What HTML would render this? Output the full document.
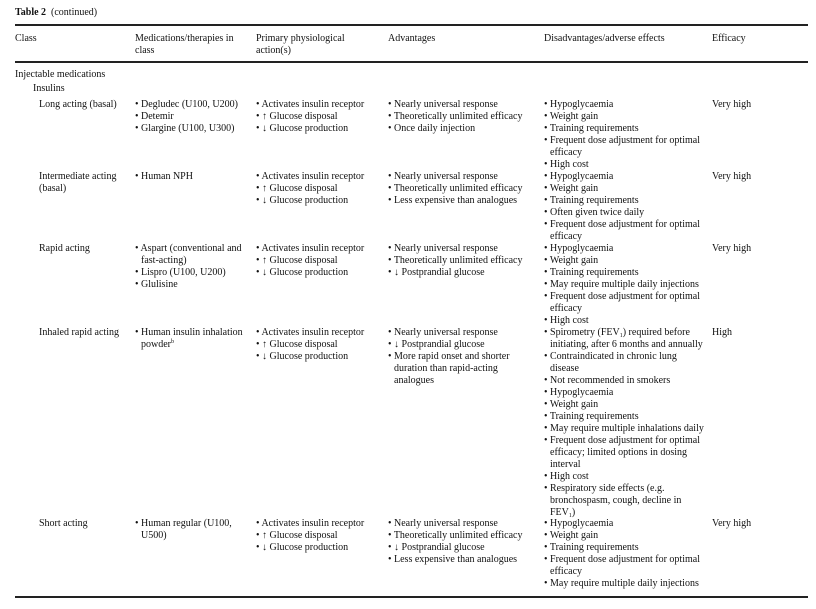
<!DOCTYPE html>
<html><head><meta charset="utf-8"><style>
body{margin:0;width:816px;height:609px;background:#fff;position:relative;overflow:hidden;font-family:"Liberation Serif",serif;font-size:10px;color:#111;}
.c{position:absolute;line-height:12px;white-space:nowrap;}
.i{padding-left:6px;}
.r{position:absolute;left:15px;width:793px;background:#222;}
.s{font-size:6px;line-height:0;position:relative;vertical-align:baseline;}
.dn{top:2px}.up{top:-4px}
</style></head><body>
<div class="c" style="left:15px;top:7px"><b>Table 2</b>&nbsp; (continued)</div>
<div class="r" style="top:24px;height:2px"></div>
<div class="c" style="left:15px;top:33px">Class</div>
<div class="c" style="left:135px;top:33px">Medications/therapies in<br>class</div>
<div class="c" style="left:256px;top:33px">Primary physiological<br>action(s)</div>
<div class="c" style="left:388px;top:33px">Advantages</div>
<div class="c" style="left:544px;top:33px">Disadvantages/adverse effects</div>
<div class="c" style="left:712px;top:33px">Efficacy</div>
<div class="r" style="top:61px;height:1.5px"></div>
<div class="c" style="left:15px;top:69px">Injectable medications</div>
<div class="c" style="left:33px;top:83px">Insulins</div>

<div class="c" style="left:39px;top:99px">Long acting (basal)</div>
<div class="c" style="left:135px;top:99px">• Degludec (U100, U200)<br>• Detemir<br>• Glargine (U100, U300)</div>
<div class="c" style="left:256px;top:99px">• Activates insulin receptor<br>• ↑ Glucose disposal<br>• ↓ Glucose production</div>
<div class="c" style="left:388px;top:99px">• Nearly universal response<br>• Theoretically unlimited efficacy<br>• Once daily injection</div>
<div class="c" style="left:544px;top:99px">• Hypoglycaemia<br>• Weight gain<br>• Training requirements<br>• Frequent dose adjustment for optimal<br><span class="i">efficacy</span><br>• High cost</div>
<div class="c" style="left:712px;top:99px">Very high</div>

<div class="c" style="left:39px;top:171px">Intermediate acting<br>(basal)</div>
<div class="c" style="left:135px;top:171px">• Human NPH</div>
<div class="c" style="left:256px;top:171px">• Activates insulin receptor<br>• ↑ Glucose disposal<br>• ↓ Glucose production</div>
<div class="c" style="left:388px;top:171px">• Nearly universal response<br>• Theoretically unlimited efficacy<br>• Less expensive than analogues</div>
<div class="c" style="left:544px;top:171px">• Hypoglycaemia<br>• Weight gain<br>• Training requirements<br>• Often given twice daily<br>• Frequent dose adjustment for optimal<br><span class="i">efficacy</span></div>
<div class="c" style="left:712px;top:171px">Very high</div>

<div class="c" style="left:39px;top:243px">Rapid acting</div>
<div class="c" style="left:135px;top:243px">• Aspart (conventional and<br><span class="i">fast-acting)</span><br>• Lispro (U100, U200)<br>• Glulisine</div>
<div class="c" style="left:256px;top:243px">• Activates insulin receptor<br>• ↑ Glucose disposal<br>• ↓ Glucose production</div>
<div class="c" style="left:388px;top:243px">• Nearly universal response<br>• Theoretically unlimited efficacy<br>• ↓ Postprandial glucose</div>
<div class="c" style="left:544px;top:243px">• Hypoglycaemia<br>• Weight gain<br>• Training requirements<br>• May require multiple daily injections<br>• Frequent dose adjustment for optimal<br><span class="i">efficacy</span><br>• High cost</div>
<div class="c" style="left:712px;top:243px">Very high</div>

<div class="c" style="left:39px;top:327px">Inhaled rapid acting</div>
<div class="c" style="left:135px;top:327px">• Human insulin inhalation<br><span class="i">powder<span class="s up">b</span></span></div>
<div class="c" style="left:256px;top:327px">• Activates insulin receptor<br>• ↑ Glucose disposal<br>• ↓ Glucose production</div>
<div class="c" style="left:388px;top:327px">• Nearly universal response<br>• ↓ Postprandial glucose<br>• More rapid onset and shorter<br><span class="i">duration than rapid-acting</span><br><span class="i">analogues</span></div>
<div class="c" style="left:544px;top:327px">• Spirometry (FEV<span class="s dn">1</span>) required before<br><span class="i">initiating, after 6 months and annually</span><br>• Contraindicated in chronic lung<br><span class="i">disease</span><br>• Not recommended in smokers<br>• Hypoglycaemia<br>• Weight gain<br>• Training requirements<br>• May require multiple inhalations daily<br>• Frequent dose adjustment for optimal<br><span class="i">efficacy; limited options in dosing</span><br><span class="i">interval</span><br>• High cost<br>• Respiratory side effects (e.g.<br><span class="i">bronchospasm, cough, decline in</span><br><span class="i">FEV<span class="s dn">1</span>)</span></div>
<div class="c" style="left:712px;top:327px">High</div>

<div class="c" style="left:39px;top:518px">Short acting</div>
<div class="c" style="left:135px;top:518px">• Human regular (U100,<br><span class="i">U500)</span></div>
<div class="c" style="left:256px;top:518px">• Activates insulin receptor<br>• ↑ Glucose disposal<br>• ↓ Glucose production</div>
<div class="c" style="left:388px;top:518px">• Nearly universal response<br>• Theoretically unlimited efficacy<br>• ↓ Postprandial glucose<br>• Less expensive than analogues</div>
<div class="c" style="left:544px;top:518px">• Hypoglycaemia<br>• Weight gain<br>• Training requirements<br>• Frequent dose adjustment for optimal<br><span class="i">efficacy</span><br>• May require multiple daily injections</div>
<div class="c" style="left:712px;top:518px">Very high</div>

<div class="r" style="top:596px;height:1.5px"></div>
</body></html>
